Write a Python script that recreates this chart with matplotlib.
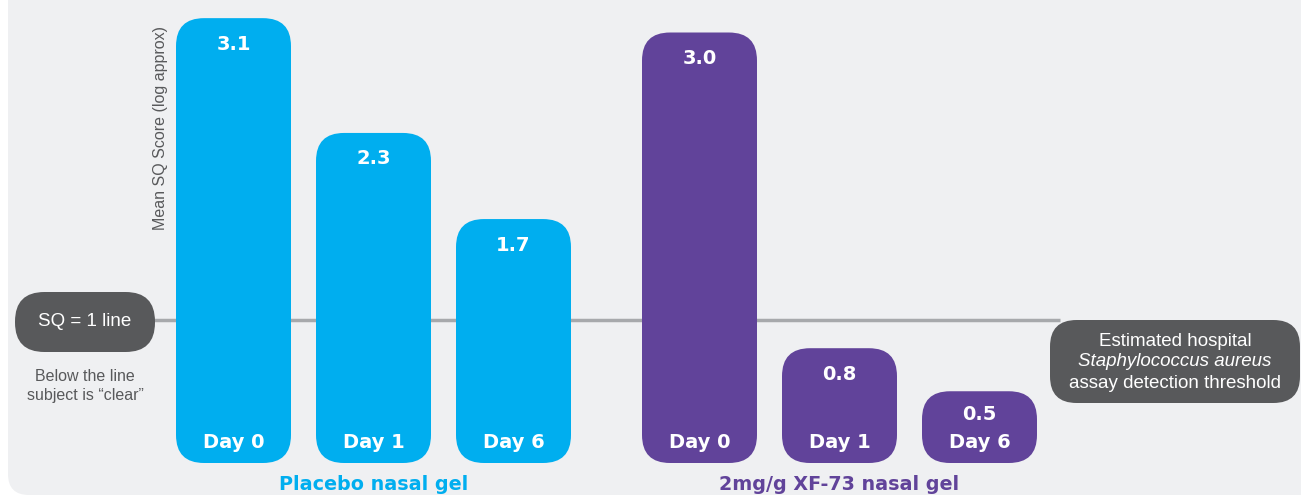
import matplotlib.pyplot as plt
from matplotlib.patches import FancyBboxPatch
import numpy as np

# data
groups = ["Placebo nasal gel", "2mg/g XF-73 nasal gel"]
days = ["Day 0", "Day 1", "Day 6"]
placebo = [3.1, 2.3, 1.7]
xf73 = [3.0, 0.8, 0.5]
sq_line = 1.0

blue = "#00aeef"
purple = "#61439a"
grey_bg = "#eff0f2"
dark = "#58595b"

W, H = 1301, 501
fig = plt.figure(figsize=(W / 100, H / 100), dpi=100)
fig.patch.set_facecolor("white")

# pixel layout: bar pitch 140 px, 143.5 px per score unit, baseline at y=463 px
px_x = 140.0
px_y = 143.5
x0_px = 233.5
base_px = 463.0
ax = fig.add_axes([0, 0, 1, 1])
ax.set_xlim(-x0_px / px_x, (W - x0_px) / px_x)
ax.set_ylim(-(H - base_px) / px_y, base_px / px_y)
ax.axis("off")

def px2x(p):
    return (p - x0_px) / px_x

def px2y(p):
    return (base_px - p) / px_y

# background panel
panel = FancyBboxPatch((px2x(8), px2y(495)), px2x(1340) - px2x(8), px2y(-40) - px2y(495),
                       boxstyle="round,pad=0,rounding_size=0.15", mutation_aspect=px_x / px_y,
                       fc=grey_bg, ec="none", zorder=0)
ax.add_patch(panel)

# SQ = 1 line
ax.plot([px2x(150), px2x(1060)], [sq_line, sq_line], color="#a7a9ac", lw=2.5, zorder=1,
        solid_capstyle="butt")

width = 115 / px_x
radius = 28 / px_x
gap = 46 / px_x
positions = [np.arange(3), np.arange(3) + 3 + gap]
vals = [placebo, xf73]
colors = [blue, purple]

for g in range(2):
    for i, (xp, v) in enumerate(zip(positions[g], vals[g])):
        bar = FancyBboxPatch((xp - width / 2, 0), width, v,
                             boxstyle=f"round,pad=0,rounding_size={radius}",
                             mutation_aspect=px_x / px_y, fc=colors[g], ec="none", zorder=2)
        ax.add_patch(bar)
        ty = v - 26 / px_y
        if v < 0.6:
            ty = px2y(414)
        ax.text(xp, ty, f"{v:.1f}", ha="center", va="center", fontsize=14, zorder=3,
                family="DejaVu Sans", fontweight="bold", color="white")
        ax.text(xp, px2y(443), days[i], ha="center", va="center", fontsize=14, zorder=3,
                family="DejaVu Sans", fontweight="bold", color="white")
    ax.text(positions[g].mean(), px2y(484), groups[g], ha="center", va="center",
            fontsize=13.8, fontweight="bold", family="DejaVu Sans", color=colors[g])

# left pill
pill = FancyBboxPatch((px2x(15), px2y(352)), px2x(155) - px2x(15), 60 / px_y,
                      boxstyle="round,pad=0,rounding_size=0.21", mutation_aspect=px_x / px_y,
                      fc=dark, ec="none", zorder=3)
ax.add_patch(pill)
ax.text(px2x(85), px2y(322), "SQ = 1 line", ha="center", va="center", fontsize=13.5,
        color="white", family="Liberation Sans", zorder=4)
ax.text(px2x(85), px2y(386), "Below the line\nsubject is \u201cclear\u201d", ha="center",
        va="center", fontsize=11.5, color=dark, family="Liberation Sans", linespacing=1.35)

# right box
box = FancyBboxPatch((px2x(1050), px2y(403)), px2x(1300) - px2x(1050), 83 / px_y,
                     boxstyle="round,pad=0,rounding_size=0.19", mutation_aspect=px_x / px_y,
                     fc=dark, ec="none", zorder=3)
ax.add_patch(box)
cx = px2x(1175)
ax.text(cx, px2y(341), "Estimated hospital", ha="center", va="center", fontsize=13.5,
        color="white", family="Liberation Sans", zorder=4)
ax.text(cx, px2y(362), "Staphylococcus aureus", ha="center", va="center", fontsize=13.5,
        color="white", family="Liberation Sans", style="italic", zorder=4)
ax.text(cx, px2y(383), "assay detection threshold", ha="center", va="center", fontsize=13.5,
        color="white", family="Liberation Sans", zorder=4)

# y label
ax.text(px2x(160), px2y(128), "Mean SQ Score (log approx)", rotation=90, ha="center",
        va="center", fontsize=11.5, color=dark, family="Liberation Sans")

plt.savefig("out.png", dpi=100, facecolor=fig.get_facecolor())
